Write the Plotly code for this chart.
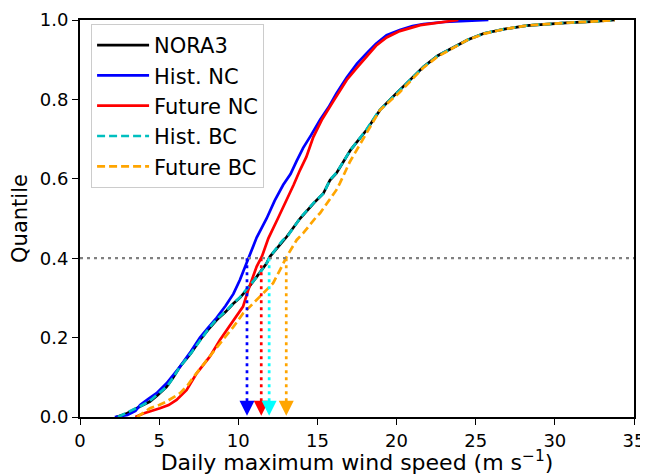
import plotly.graph_objects as go

# ---------------- data ----------------
nora3_x = [2.3, 2.9, 3.37, 3.9, 4.42, 4.9, 5.47, 5.9, 6.32, 7.0, 7.58, 8.1, 8.63, 9.2, 9.69, 10.1,
           10.53, 11.16, 11.79, 12.0, 12.84, 13.06, 13.9, 14.1, 14.8, 15.37, 15.8, 16.2, 17.1, 18.1,
           18.95, 19.6, 20.2, 21.0, 21.7, 22.6, 23.6, 24.5, 25.5, 26.8, 28.2, 29.5, 30.7, 32.3, 33.8]
nora3_q = [0.0, 0.008, 0.018, 0.028, 0.039, 0.055, 0.076, 0.10, 0.127, 0.16, 0.194, 0.22, 0.244, 0.265,
           0.286, 0.30, 0.32, 0.353, 0.387, 0.404, 0.446, 0.454, 0.50, 0.509, 0.54, 0.563, 0.597, 0.614,
           0.673, 0.723, 0.773, 0.80, 0.824, 0.855, 0.882, 0.91, 0.932, 0.95, 0.966, 0.977, 0.986, 0.99,
           0.993, 0.996, 1.0]

hist_nc_x = [2.2, 3.0, 3.5, 3.8, 4.3, 4.84, 5.47, 5.9, 6.32, 7.0, 7.58, 8.1, 8.63, 9.2, 9.69, 10.1,
             10.53, 11.16, 11.79, 12.3, 12.84, 13.3, 13.69, 14.1, 14.6, 15.16, 15.7, 16.2, 16.85, 17.5,
             18.1, 18.7, 19.37, 20.2, 21.0, 21.7, 23.0, 24.5, 25.8]
hist_nc_q = [0.0, 0.005, 0.015, 0.03, 0.045, 0.06, 0.085, 0.105, 0.127, 0.165, 0.20, 0.225, 0.25, 0.28,
             0.31, 0.345, 0.39, 0.452, 0.50, 0.545, 0.585, 0.612, 0.645, 0.678, 0.71, 0.748, 0.78, 0.815,
             0.855, 0.89, 0.916, 0.94, 0.962, 0.975, 0.985, 0.99, 0.995, 0.998, 1.0]

fut_nc_x = [3.5, 4.0, 5.05, 5.6, 6.1, 6.74, 7.37, 8.2, 8.84, 9.69, 10.3, 10.63, 11.16, 11.5, 11.9,
            12.5, 13.06, 13.5, 13.9, 14.3, 14.74, 15.3, 16.0, 16.85, 17.5, 18.1, 18.7, 19.37, 20.2,
            21.5, 22.7, 23.9]
fut_nc_q = [0.0, 0.009, 0.022, 0.03, 0.043, 0.068, 0.11, 0.152, 0.194, 0.244, 0.278, 0.32, 0.379, 0.405,
            0.45, 0.50, 0.547, 0.585, 0.622, 0.655, 0.705, 0.75, 0.795, 0.849, 0.88, 0.908, 0.935,
            0.956, 0.972, 0.987, 0.994, 1.0]

hist_bc_x = [2.4, 2.9, 3.4, 3.9, 4.4, 4.9, 5.5, 5.9, 6.3, 7.0, 7.6, 8.1, 8.6, 9.2, 9.7, 10.1,
             10.5, 11.2, 11.8, 12.0, 12.8, 13.1, 13.9, 14.1, 14.8, 15.4, 15.8, 16.2, 17.1, 18.1,
             18.9, 19.6, 20.2, 21.0, 21.7, 22.6, 23.6, 24.5, 25.5, 26.8, 28.2, 29.5, 30.7, 32.3, 33.8]
hist_bc_q = [0.0, 0.009, 0.019, 0.029, 0.04, 0.056, 0.077, 0.10, 0.126, 0.16, 0.195, 0.221, 0.245, 0.266,
             0.287, 0.301, 0.321, 0.354, 0.388, 0.404, 0.445, 0.455, 0.50, 0.51, 0.541, 0.564, 0.598,
             0.615, 0.673, 0.724, 0.772, 0.80, 0.824, 0.855, 0.882, 0.91, 0.932, 0.95, 0.966, 0.977,
             0.986, 0.99, 0.993, 0.996, 1.0]

fut_bc_x = [3.6, 4.0, 4.42, 5.0, 5.47, 6.32, 6.8, 7.16, 8.0, 8.84, 9.69, 10.3, 10.74, 11.37, 12.0,
            12.2, 12.63, 13.06, 13.69, 14.1, 14.95, 15.16, 16.2, 16.42, 17.05, 18.1, 18.95, 20.2,
            21.0, 21.7, 22.6, 23.6, 24.5, 25.5, 26.8, 28.2, 29.5, 30.7, 32.3, 33.8]
fut_bc_q = [0.0, 0.01, 0.022, 0.03, 0.039, 0.06, 0.08, 0.10, 0.144, 0.185, 0.227, 0.261, 0.278, 0.303,
            0.33, 0.337, 0.37, 0.404, 0.446, 0.463, 0.505, 0.513, 0.572, 0.589, 0.643, 0.715, 0.773,
            0.818, 0.85, 0.88, 0.908, 0.93, 0.95, 0.965, 0.977, 0.986, 0.99, 0.993, 0.996, 1.0]

# wind speed at the 0.4 quantile for each simulation
q_level = 0.4
q40_names = ["Hist. NC", "Future NC", "Hist. BC", "Future BC"]
q40_x = [10.55, 11.45, 11.95, 13.03]

x_ticks = [0, 5, 10, 15, 20, 25, 30, 35]
y_ticks = [0.0, 0.2, 0.4, 0.6, 0.8, 1.0]

# ---------------- figure ----------------
FONT = "DejaVu Sans"
fig = go.Figure()

series = [
    ("NORA3", nora3_x, nora3_q, "#000000", "solid"),
    ("Hist. NC", hist_nc_x, hist_nc_q, "#0000FF", "solid"),
    ("Future NC", fut_nc_x, fut_nc_q, "#FF0000", "solid"),
    ("Hist. BC", hist_bc_x, hist_bc_q, "#00BFBF", "8px,4px"),
    ("Future BC", fut_bc_x, fut_bc_q, "#FFA500", "8px,4px"),
]
for i, (name, xs, qs, col, dash) in enumerate(series):
    fig.add_trace(go.Scatter(x=xs, y=qs, mode="lines", name=name, legendgroup=f"g{i}",
                             line=dict(color=col, width=2.7, dash=dash)))

arrow_cols = ["#0000FF", "#FF0000", "#00FFFF", "#FFA500"]
for xv, col in zip(q40_x, arrow_cols):
    fig.add_trace(go.Scatter(x=[xv, xv], y=[q_level, 0.035], mode="lines", showlegend=False,
                             line=dict(color=col, width=2.7, dash="3px,4px"), hoverinfo="skip"))
    fig.add_trace(go.Scatter(x=[xv], y=[0.003], mode="markers", showlegend=False, cliponaxis=False,
                             marker=dict(symbol="arrow-down", size=15, color=col,
                                         line=dict(width=0)), hoverinfo="skip"))

fig.add_shape(type="line", xref="paper", x0=0, x1=1, y0=q_level, y1=q_level, yref="y",
              line=dict(color="#808080", width=2.2, dash="3px,4px"))

axis_common = dict(showline=True, linecolor="black", linewidth=2, mirror=True, ticks="outside",
                   ticklen=6, tickwidth=1.4, tickcolor="black", showgrid=False, zeroline=False,
                   automargin=False, tickfont=dict(family=FONT, size=18, color="black"))

# the page adds an 8px body margin, so the figure is sized to fit inside the 648x475 window
fig.update_layout(
    width=640, height=467,
    margin=dict(l=72, r=14, t=12, b=58),
    paper_bgcolor="white", plot_bgcolor="white",
    font=dict(family=FONT, size=18, color="black"),
    showlegend=True,
    legend=dict(x=0.02, y=0.99, xanchor="left", yanchor="top", bgcolor="rgba(255,255,255,0.9)",
                bordercolor="#cccccc", borderwidth=1, font=dict(family=FONT, size=21),
                itemwidth=52, tracegroupgap=0, traceorder="grouped"),
    xaxis=dict(range=[0, 35], tickvals=x_ticks, ticktext=[str(t) for t in x_ticks],
               title=dict(text="Daily maximum wind speed (m s<sup>−1</sup>)", standoff=4,
                          font=dict(family=FONT, size=22)), **axis_common),
    yaxis=dict(range=[0, 1.0], tickvals=y_ticks, ticktext=[f"{t:.1f}" for t in y_ticks],
               title=dict(text="Quantile", standoff=6, font=dict(family=FONT, size=21)),
               **axis_common),
    hovermode=False,
)

fig.write_html("out.html")
